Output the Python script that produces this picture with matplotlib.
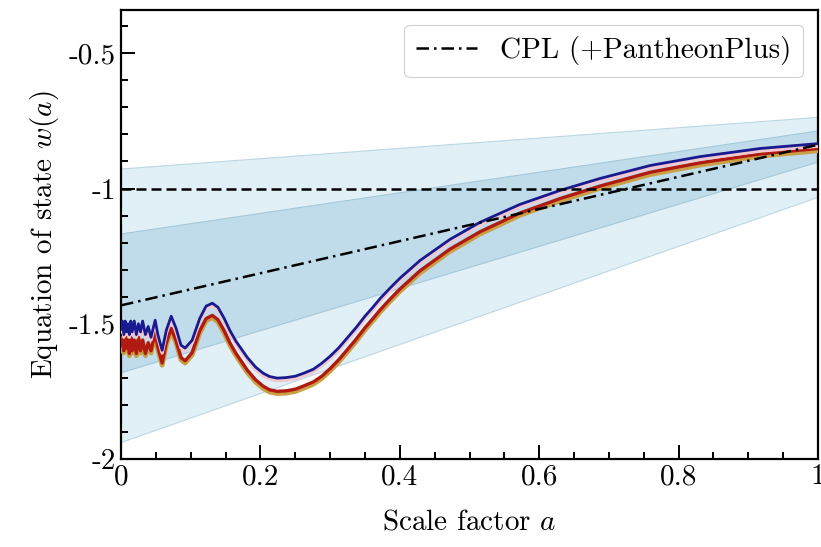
import numpy as np
import matplotlib
matplotlib.use('Agg')
import matplotlib.pyplot as plt
import matplotlib.patheffects as pe

plt.rcParams['font.family'] = ['cmr10', 'DejaVu Serif']
plt.rcParams['mathtext.fontset'] = 'cm'
plt.rcParams['axes.unicode_minus'] = False

# CPL posterior bands (values at a = 0 and a = 1)
a_band = [0.0, 1.0]
outer_hi = [-0.926, -0.735]
outer_lo = [-1.937, -1.030]
inner_hi = [-1.166, -0.785]
inner_lo = [-1.679, -0.900]
cpl_mean = [-1.432, -0.838]

# reconstructed w(a) curves
a = [0.000, 0.002, 0.004, 0.006, 0.008, 0.010, 0.012, 0.014, 0.016, 0.019,
     0.022, 0.025, 0.028, 0.031, 0.035, 0.039, 0.043,
     0.049, 0.053, 0.059, 0.065, 0.072, 0.079, 0.086, 0.092,
     0.102, 0.113, 0.122, 0.131, 0.139, 0.148, 0.156, 0.165,
     0.181, 0.193, 0.204, 0.213, 0.224, 0.237, 0.250, 0.262, 0.276, 0.288,
     0.300, 0.312, 0.324, 0.337, 0.350, 0.361, 0.372, 0.386,
     0.400, 0.429, 0.472, 0.515, 0.572, 0.630, 0.687, 0.759, 0.831, 0.917, 1.000]
w_upper = [-1.52, -1.49, -1.54, -1.49, -1.53, -1.50, -1.54, -1.49, -1.53, -1.49,
           -1.54, -1.50, -1.53, -1.49, -1.54, -1.51, -1.55,
           -1.487, -1.542, -1.598, -1.524, -1.472, -1.517, -1.579, -1.590,
           -1.561, -1.480, -1.435, -1.424, -1.439, -1.480, -1.524, -1.565,
           -1.624, -1.660, -1.683, -1.695, -1.701, -1.699, -1.694, -1.683, -1.668, -1.646,
           -1.620, -1.590, -1.554, -1.515, -1.472, -1.440, -1.406, -1.368,
           -1.332, -1.266, -1.188, -1.125, -1.059, -1.007, -0.963, -0.915, -0.882, -0.852, -0.834]
w_lower = [-1.58, -1.55, -1.60, -1.54, -1.59, -1.56, -1.61, -1.55, -1.60, -1.56,
           -1.61, -1.55, -1.60, -1.56, -1.61, -1.57, -1.60,
           -1.532, -1.588, -1.645, -1.570, -1.517, -1.563, -1.625, -1.637,
           -1.607, -1.526, -1.481, -1.469, -1.485, -1.526, -1.570, -1.610,
           -1.671, -1.707, -1.731, -1.744, -1.750, -1.748, -1.742, -1.730, -1.715, -1.694,
           -1.666, -1.634, -1.598, -1.558, -1.515, -1.482, -1.448, -1.409,
           -1.372, -1.304, -1.224, -1.160, -1.091, -1.037, -0.991, -0.940, -0.905, -0.872, -0.852]

xticks = [0, 0.2, 0.4, 0.6, 0.8, 1]
xlabels = ['0', '0.2', '0.4', '0.6', '0.8', '1']
yticks = [-2, -1.5, -1, -0.5]
ylabels = ['-2', '-1.5', '-1', '-0.5']

fig = plt.figure(figsize=(8.21, 5.47), dpi=100)
ax = fig.add_axes([0.1474, 0.1609, 0.849, 0.8208])

ax.fill_between(a_band, outer_lo, outer_hi, color='#e1eff6', edgecolor='#bcd7e4', lw=0.8, zorder=1)
ax.fill_between(a_band, inner_lo, inner_hi, color='#c0dcea', edgecolor='#a5c8da', lw=0.8, zorder=1.5)

ax.plot(a, w_lower, color='#b01a10', lw=2.4, zorder=4, solid_joinstyle='round',
        path_effects=[pe.Stroke(linewidth=3.5, foreground='#c9a046', offset=(0, -1.6)),
                      pe.Normal()])
ax.plot(a, w_upper, color='#1a1a90', lw=2.0, zorder=5, solid_joinstyle='round',
        path_effects=[pe.Stroke(linewidth=2.5, foreground='#f2c8d0', offset=(0, -1.8)),
                      pe.Normal()])

ax.axhline(-1, color='black', lw=1.8, dashes=(4, 2), zorder=6)
ax.plot(a_band, cpl_mean, color='black', lw=1.8, dashes=(5, 2, 1, 2), zorder=6,
        label='CPL (+PantheonPlus)')

ax.set_xlim(0, 1)
ax.set_ylim(-2, -0.34)
ax.set_xticks(xticks)
ax.set_xticklabels(xlabels)
ax.set_yticks(yticks)
ax.set_yticklabels(ylabels)
ax.set_xticks(np.arange(0, 1.0001, 0.05), minor=True)
ax.set_yticks(np.arange(-2, -0.34, 0.1), minor=True)
ax.tick_params(which='both', direction='in', labelsize=21, width=1.4)
ax.tick_params(which='major', length=10)
ax.tick_params(which='minor', length=5)
for s in ax.spines.values():
    s.set_linewidth(1.6)

ax.set_xlabel('Scale factor $a$', fontsize=21, labelpad=14)
ax.set_ylabel('Equation of state $w(a)$', fontsize=21, labelpad=6)

leg = ax.legend(loc='upper right', fontsize=21, handlelength=2.1, handletextpad=0.8,
                fancybox=True, framealpha=1, edgecolor='#d0d0d0')
leg.get_frame().set_linewidth(0.8)

fig.savefig('out.png', dpi=100)
